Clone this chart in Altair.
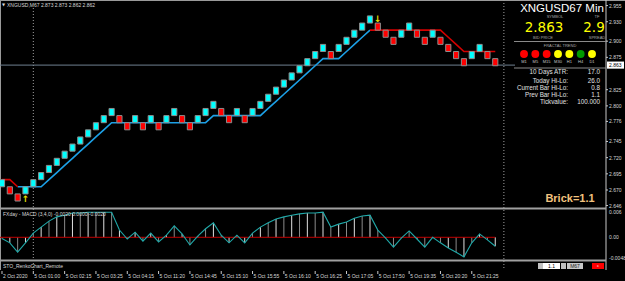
import altair as alt
import pandas as pd

# ---------------- data ----------------
brick_size = 0.011
brick_low = [2.675, 2.664, 2.653, 2.664, 2.675, 2.686, 2.697, 2.708, 2.719, 2.730,
             2.741, 2.752, 2.763, 2.774, 2.785, 2.774, 2.763, 2.774, 2.763, 2.774,
             2.763, 2.774, 2.785, 2.774, 2.763, 2.774, 2.785, 2.796, 2.785, 2.774,
             2.785, 2.774, 2.785, 2.796, 2.807, 2.818, 2.829, 2.840, 2.851, 2.862,
             2.873, 2.884, 2.873, 2.884, 2.895, 2.906, 2.917, 2.928, 2.917, 2.906,
             2.895, 2.906, 2.917, 2.906, 2.895, 2.906, 2.895, 2.884, 2.873, 2.862,
             2.873, 2.884, 2.873, 2.862]
brick_dir = list("UDDUUUUUUU" "UUUUUDDUDU" "DUUDDUUUDD" "UDUUUUUUUU"
                 "UUDUUUUUDD" "DUUDDUDDDD" "UUDD")

support_idx = list(range(3, 49))
support_val = [2.675, 2.675, 2.675, 2.675, 2.686, 2.697, 2.708, 2.719, 2.730, 2.741,
               2.752, 2.763, 2.774, 2.774, 2.774, 2.774, 2.774, 2.774, 2.774, 2.774,
               2.774, 2.774, 2.774, 2.774, 2.774, 2.785, 2.785, 2.785, 2.785, 2.785,
               2.785, 2.785, 2.796, 2.807, 2.818, 2.829, 2.840, 2.851, 2.862, 2.873,
               2.873, 2.873, 2.884, 2.895, 2.906, 2.917]
resist1_idx = [1, 2, 3]
resist1_val = [2.686, 2.686, 2.675]
resist2_idx = list(range(48, 65))
resist2_val = [2.917, 2.917, 2.917, 2.917, 2.917, 2.917, 2.917, 2.917, 2.917, 2.917,
               2.906, 2.895, 2.884, 2.884, 2.884, 2.884, 2.884]

arrow_idx = [4, 49]
arrow_price = [2.656, 2.934]
arrow_sym = ["↑", "↓"]

bid_price = 2.863
day_separator = [5]
shift_marker = [65.1]

macd = [-0.0003, -0.0013, -0.0035, -0.0013, 0.0010, 0.0024, 0.0038, 0.0048, 0.0052, 0.0057,
        0.0057, 0.0059, 0.0059, 0.0059, 0.0059, 0.0017, -0.0004, 0.0012, -0.0009, 0.0010,
        -0.0011, 0.0005, 0.0027, 0.0008, -0.0018, 0.0003, 0.0020, 0.0034, 0.0005, -0.0013,
        0.0005, -0.0013, 0.0010, 0.0024, 0.0034, 0.0043, 0.0048, 0.0052, 0.0055, 0.0057,
        0.0057, 0.0059, 0.0024, 0.0031, 0.0036, 0.0045, 0.0050, 0.0052, 0.0017, -0.0002,
        -0.0023, -0.0002, 0.0015, -0.0004, -0.0023, 0.0000, -0.0013, -0.0025, -0.0035, -0.0046,
        -0.0013, 0.0008, -0.0006, -0.0021]

price_ticks = [2.955, 2.930, 2.900, 2.875, 2.825, 2.800, 2.776, 2.745, 2.720, 2.695, 2.670, 2.646]
macd_ticks = [0.006, 0.0, -0.0048]
macd_tick_text = ["0.006", "0.00", "-0.0048"]

time_idx = [1, 5, 9, 13, 17, 21, 25, 29, 33, 37, 41, 45, 49, 53, 57, 61]
time_text = ["2 Oct 2020", "5 Oct 01:00", "5 Oct 02:15", "5 Oct 03:25", "5 Oct 04:15",
             "5 Oct 11:20", "5 Oct 14:45", "5 Oct 15:10", "5 Oct 15:55", "5 Oct 16:10",
             "5 Oct 16:25", "5 Oct 17:05", "5 Oct 17:50", "5 Oct 19:35", "5 Oct 20:20",
             "5 Oct 21:25"]

tf_names = ["M1", "M5", "M15", "M30", "H1", "H4", "D1"]
tf_colors = ["#FF0000", "#FF0000", "#FF0000", "#FFFF00", "#FFFF00", "#009A00", "#FFFF00"]

stat_names = ["10 Days ATR:", "Today Hi-Lo:", "Current Bar Hi-Lo:", "Prev Bar Hi-Lo:", "Tickvalue:"]
stat_values = ["17.0", "26.0", "0.8", "1.1", "100.000"]

# ---------------- scales ----------------
W, H = 625, 281
FONT = "Liberation Sans"
xsc = alt.Scale(domain=[0.745, 80.57], nice=False, zero=False)
ysc = alt.Scale(domain=[2.5294, 2.9636], nice=False, zero=False)
msc = alt.Scale(domain=[-0.01027, 0.05577], nice=False, zero=False)


def one():
    return pd.DataFrame({"a": [0]})


def txt(s, x, y, size=5.0, color="#D8D8D8", align="left", weight="normal", font=FONT):
    return alt.Chart(pd.DataFrame({"t": [s]})).mark_text(
        align=align, baseline="middle", fontSize=size, font=font,
        fontWeight=weight, color=color
    ).encode(x=alt.value(x), y=alt.value(y), text="t:N")


def hline(y, x1, x2, color, w=1.0):
    return alt.Chart(one()).mark_rule(color=color, strokeWidth=w).encode(
        x=alt.value(x1), x2=alt.value(x2), y=alt.value(y))


def vline(x, y1, y2, color, w=1.0):
    return alt.Chart(one()).mark_rule(color=color, strokeWidth=w).encode(
        x=alt.value(x), y=alt.value(y1), y2=alt.value(y2))


def box(x1, x2, y1, y2, color):
    return alt.Chart(one()).mark_rect(color=color).encode(
        x=alt.value(x1), x2=alt.value(x2), y=alt.value(y1), y2=alt.value(y2))


# ---------------- price panel ----------------
bricks = pd.DataFrame({"i": list(range(1, len(brick_low) + 1)), "low": brick_low, "dir": brick_dir})
sup = pd.DataFrame({"i": support_idx, "p": support_val})
res1 = pd.DataFrame({"i": resist1_idx, "p": resist1_val})
res2 = pd.DataFrame({"i": resist2_idx, "p": resist2_val})
arrows = pd.DataFrame({"i": arrow_idx, "p": arrow_price, "s": arrow_sym})
ticks = pd.DataFrame({"p": price_ticks})
tlab = pd.DataFrame({"i": time_idx, "t": time_text})

X = lambda f: alt.X(f, scale=xsc, axis=None)
Y = lambda f: alt.Y(f, scale=ysc, axis=None)

sep_line = alt.Chart(pd.DataFrame({"i": day_separator})).mark_rule(
    color="#A0A0A0", strokeDash=[1, 2]).encode(x=X("i:Q"), y=alt.value(8), y2=alt.value(270))
shift_line = alt.Chart(pd.DataFrame({"i": shift_marker})).mark_rule(
    color="#A0A0A0", strokeDash=[1, 2]).encode(x=X("i:Q"), y=alt.value(0), y2=alt.value(270))
bid_line = alt.Chart(pd.DataFrame({"p": [bid_price]})).mark_rule(
    color="#6F8090", strokeWidth=1).encode(y=Y("p:Q"), x=alt.value(0), x2=alt.value(515))

sup_line = alt.Chart(sup).mark_line(color="#1CA0E6", strokeWidth=1.6).encode(x=X("i:Q"), y=Y("p:Q"))
res_line1 = alt.Chart(res1).mark_line(color="#D40000", strokeWidth=1.6).encode(x=X("i:Q"), y=Y("p:Q"))
res_line2 = alt.Chart(res2).mark_line(color="#D40000", strokeWidth=1.6).encode(x=X("i:Q"), y=Y("p:Q"))

brick_rects = alt.Chart(bricks).transform_calculate(
    x1="datum.i - 0.33", x2="datum.i + 0.33", high=f"datum.low + {brick_size}"
).mark_rect(stroke="#8C8C8C", strokeWidth=1).encode(
    x=X("x1:Q"), x2="x2:Q", y=Y("low:Q"), y2="high:Q",
    color=alt.Color("dir:N", scale=alt.Scale(domain=["U", "D"], range=["#00FFFF", "#FF0000"]), legend=None),
)

arrow_marks = alt.Chart(arrows).mark_text(
    fontSize=9, fontWeight="bold", color="#E8E000", font="DejaVu Sans", baseline="middle"
).encode(x=X("i:Q"), y=Y("p:Q"), text="s:N")

tick_marks = alt.Chart(ticks).mark_rule(color="#C8C8C8").encode(
    y=Y("p:Q"), x=alt.value(606), x2=alt.value(608))
tick_text = alt.Chart(ticks).mark_text(
    align="left", baseline="middle", fontSize=5, font=FONT, color="#D8D8D8"
).encode(y=Y("p:Q"), x=alt.value(609), text=alt.Text("p:Q", format=".3f"))

bid_box = alt.Chart(pd.DataFrame({"p": [bid_price]})).transform_calculate(
    lo="datum.p - 0.0055", hi="datum.p + 0.0055"
).mark_rect(color="#FFFFFF").encode(y=Y("lo:Q"), y2="hi:Q", x=alt.value(607), x2=alt.value(624))
bid_text = alt.Chart(pd.DataFrame({"p": [bid_price]})).mark_text(
    align="left", baseline="middle", fontSize=5, font=FONT, color="#000000"
).encode(y=Y("p:Q"), x=alt.value(609), text=alt.Text("p:Q", format=".3f"))

time_ticks = alt.Chart(tlab).mark_rule(color="#C8C8C8").encode(
    x=X("i:Q"), y=alt.value(271), y2=alt.value(274))
time_text_marks = alt.Chart(tlab).mark_text(
    align="left", baseline="middle", fontSize=5, font=FONT, color="#D8D8D8", dx=1
).encode(x=X("i:Q"), y=alt.value(276), text="t:N")

price_group = alt.layer(
    sep_line, shift_line, bid_line, sup_line, res_line1, res_line2, brick_rects,
    arrow_marks, tick_marks, tick_text, bid_box, bid_text, time_ticks, time_text_marks
)

# ---------------- MACD panel ----------------
md = pd.DataFrame({"i": list(range(1, len(macd) + 1)), "v": macd})
MY = lambda f: alt.Y(f, scale=msc, axis=None)
MX = lambda f: alt.X(f, scale=xsc, axis=None)

hist = alt.Chart(md).transform_calculate(
    z="0", par="datum.i % 2 == 0 ? 'a' : 'b'"
).mark_rule(strokeWidth=1).encode(
    x=MX("i:Q"), y=MY("z:Q"), y2="v:Q",
    color=alt.Color("par:N", scale=alt.Scale(domain=["a", "b"], range=["#E0E0E0", "#8A8A8A"]), legend=None),
)
zero_line = alt.Chart(pd.DataFrame({"a": [0.745], "b": [64], "v": [0.0]})).mark_rule(
    color="#C00000", strokeWidth=1).encode(x=MX("a:Q"), x2="b:Q", y=MY("v:Q"))
macd_line = alt.Chart(md).mark_line(color="#20A8A8", strokeWidth=1.1).encode(x=MX("i:Q"), y=MY("v:Q"))
mt = pd.DataFrame({"v": macd_ticks, "t": macd_tick_text})
macd_tick_text_marks = alt.Chart(mt).mark_text(
    align="left", baseline="middle", fontSize=5, font=FONT, color="#D8D8D8"
).encode(y=MY("v:Q"), x=alt.value(609), text="t:N")

macd_group = alt.layer(hist, zero_line, macd_line, macd_tick_text_marks)

# ---------------- fractal trend circles ----------------
tf = pd.DataFrame({"tf": tf_names, "c": tf_colors})
TX = alt.X("tf:N", sort=None, scale=alt.Scale(range=[524, 592], padding=0), axis=None)
circles = alt.Chart(tf).mark_circle(size=62, opacity=1).encode(
    x=TX, y=alt.value(54), color=alt.Color("c:N", scale=None))
tf_labels = alt.Chart(tf).mark_text(fontSize=4, font=FONT, color="#C8C8C8", baseline="middle").encode(
    x=TX, y=alt.value(62), text="tf:N")
circle_group = alt.layer(circles, tf_labels)

# ---------------- frame, panels and texts ----------------
decor = [
    hline(0.5, 0, 625, "#9A9A9A"),
    vline(0.5, 0, 270, "#9A9A9A"),
    vline(606, 0, 270, "#C8C8C8"),
    hline(208.5, 0, 606, "#A0A0A0", 2),
    hline(260.5, 0, 606, "#A0A0A0", 2),
]

texts = [
    txt("▼", 2, 5, 4, "#D8D8D8", font="DejaVu Sans"),
    txt("XNGUSD,M67  2.873 2.873 2.862 2.862", 7, 5, 5),
    txt("FXday - MACD (3,4,0) -0.0020 0.0000 -0.0020", 3, 214, 5),
    txt("STO_RenkoChart_Remote", 3, 266, 5),
    txt("XNGUSD67 Min", 562, 8.5, 11.5, "#FFFFFF", "center"),
    txt("SYMBOL", 555, 17, 4, "#A8A8A8", "center"),
    txt("TF", 597, 17, 4, "#A8A8A8", "center"),
    txt("2.863", 544, 27.5, 13.5, "#FFFF00", "center", font="DejaVu Sans"),
    txt("2.9", 594, 27.5, 13.5, "#FFFF00", "center", font="DejaVu Sans"),
    txt("BID PRICE", 543, 37.5, 4, "#A8A8A8", "center"),
    txt("SPREAD", 597, 37.5, 4, "#A8A8A8", "center"),
    hline(41.5, 514, 606, "#8A8A8A"),
    txt("FRACTAL TREND", 560, 46, 4, "#A8A8A8", "center"),
    hline(68, 514, 606, "#8A8A8A"),
    txt("Brick=1.1", 570, 199, 11, "#F2C27E", "center", "bold"),
]
stat_y = [72, 80.5, 87.5, 94.5, 101.5]
for name, val, yy in zip(stat_names, stat_values, stat_y):
    texts.append(txt(name, 568, yy, 6.3, "#E0E0E0", "right"))
    texts.append(txt(val, 600, yy, 6.3, "#E0E0E0", "right"))

controls = [
    box(538, 543, 263, 269, "#C0C0C0"),
    box(543, 560, 263, 269, "#FFFFFF"),
    txt("1.1", 551.5, 266, 5, "#000000", "center"),
    box(561, 566, 263, 269, "#C0C0C0"),
    box(567, 583, 263, 269, "#C8C8C8"),
    txt("M67", 575, 266, 5, "#202020", "center"),
    box(592, 604, 263, 269, "#FF0000"),
    txt("c", 598, 266, 4, "#FFFFFF", "center"),
]

chart = alt.layer(
    *decor, price_group, macd_group, circle_group, *texts, *controls
).resolve_scale(
    x="independent", y="independent", color="independent"
).properties(
    width=W, height=H, background="#000000", padding=0, autosize="none"
).configure_view(stroke=None)

chart.save("out.html", embed_options={"renderer": "svg", "actions": False})
